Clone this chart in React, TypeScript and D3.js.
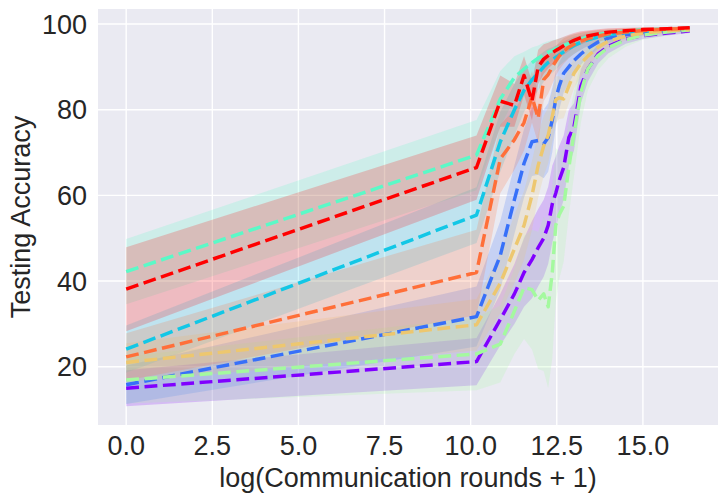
import React from "react";
import * as d3 from "d3";

const W = 727;
const H = 502;

const xValues = [0, 10.17, 10.86, 11.27, 11.55, 11.78, 11.96, 12.12, 12.25, 12.37, 12.47, 12.57, 12.7, 12.85, 13.0, 13.2, 13.4, 13.7, 14.0, 14.5, 15.0, 15.7, 16.36];

const xTicks = [0, 2.5, 5, 7.5, 10, 12.5, 15];
const yTicks = [20, 40, 60, 80, 100];

const seriesColors = ["#8000ff", "#3770f9", "#12c7e6", "#5bf9c7", "#a4f99f", "#edc76f", "#ff6f39", "#ff0000"];

const purpleMean = [15.0, 21.2, 31, 37, 42, 45, 47.8, 50, 53, 58, 60.5, 63.5, 66.5, 73.5, 76, 85.5, 89.5, 93, 94.8, 96.5, 97.3, 97.9, 98.4];
const purpleStd = [4.2, 5.5, 6, 7, 8, 9, 9, 9, 9, 9, 8.5, 8, 7.5, 6.5, 5.5, 4, 3, 2.2, 1.6, 1.1, 0.8, 0.6, 0.5];

const blueMean = [15.8, 31.7, 46, 59, 67.5, 72.5, 72.8, 72, 73.5, 77.6, 82.5, 85.5, 88.5, 90, 91.5, 93, 94.3, 95.8, 96.7, 97.5, 98, 98.5, 98.8];
const blueStd = [4.5, 7, 8, 8, 8, 8, 8, 8, 8, 7.5, 6.5, 5.5, 4.5, 3.8, 3.2, 2.5, 2, 1.5, 1.2, 0.9, 0.7, 0.5, 0.4];

const cyanMean = [24.1, 55.4, 72.5, 80, 84.5, 87, 88.5, 90, 91, 91.6, 92.2, 92.8, 93.5, 94.3, 95, 95.7, 96.3, 97, 97.5, 98, 98.4, 98.7, 99];
const cyanStd = [5.5, 6.5, 7, 6, 5, 4.5, 4, 3.5, 3.2, 3, 2.8, 2.6, 2.4, 2.2, 2, 1.7, 1.5, 1.2, 1, 0.8, 0.6, 0.5, 0.4];

const aquaMean = [42.2, 69.4, 82.5, 87.5, 89.5, 91, 92, 92.8, 93.4, 93.8, 94.2, 94.6, 95, 95.5, 96, 96.5, 97, 97.5, 97.9, 98.3, 98.6, 98.8, 99];
const aquaStd = [7.6, 8.2, 6.5, 5, 4, 3.5, 3, 2.8, 2.6, 2.4, 2.2, 2, 1.9, 1.8, 1.6, 1.4, 1.2, 1, 0.8, 0.6, 0.5, 0.4, 0.3];

const greenMean = [16.9, 23, 25.3, 33, 38.5, 38, 35.5, 37, 34, 42, 53, 55.5, 57.5, 66.5, 74.5, 84, 89.5, 92.7, 94.5, 96.3, 97.4, 98.1, 98.6];
const greenStd = [5.5, 8.5, 9, 10, 12, 14, 16, 18, 19, 20, 18, 15, 13, 11, 10, 7, 5, 3.5, 2.5, 1.6, 1.1, 0.8, 0.6];

const yellowMean = [21.0, 29.8, 39.5, 47.5, 53, 60, 67, 71.5, 74, 78.5, 82.3, 82.8, 82.5, 85.5, 88.5, 90.8, 92.5, 94.6, 96, 97.2, 97.9, 98.4, 98.7];
const yellowStd = [4.5, 6, 7, 8, 8, 8, 7.5, 7, 6.5, 6, 5.5, 5, 4.5, 4, 3.5, 3, 2.5, 1.8, 1.4, 1, 0.8, 0.6, 0.4];

const orangeMean = [22.3, 42, 68.5, 73, 77, 83, 78, 87, 88.2, 90, 91.3, 92.5, 93.7, 94.6, 95.3, 96, 96.6, 97.2, 97.7, 98.1, 98.5, 98.8, 99];
const orangeStd = [5.5, 10, 8, 7, 6.5, 6, 6, 5, 4.5, 4, 3.5, 3.2, 3, 2.6, 2.3, 2, 1.7, 1.4, 1.1, 0.9, 0.7, 0.5, 0.4];

const redMean = [38.1, 66.5, 82, 81, 88, 82, 90, 91.8, 92.6, 93.3, 93.8, 94.3, 94.9, 95.6, 96.2, 96.8, 97.2, 97.7, 98.1, 98.4, 98.7, 98.9, 99.1];
const redStd = [9.8, 7.5, 6, 5, 4.5, 4.5, 4, 3.5, 3, 2.8, 2.5, 2.3, 2.1, 1.9, 1.7, 1.5, 1.3, 1.1, 0.9, 0.7, 0.5, 0.4, 0.3];

const seriesMeans = [purpleMean, blueMean, cyanMean, aquaMean, greenMean, yellowMean, orangeMean, redMean];
const seriesStds = [purpleStd, blueStd, cyanStd, aquaStd, greenStd, yellowStd, orangeStd, redStd];

const xLabel = "log(Communication rounds + 1)";
const yLabel = "Testing Accuracy";

export default function App() {
  const left = 98, right = 718, top = 9, bottom = 425;
  const x = d3.scaleLinear().domain([-0.818, 17.18]).range([left, right]);
  const y = d3.scaleLinear().domain([6.4, 103.5]).range([bottom, top]);
  const font = "'Liberation Sans', Arial, sans-serif";
  const fs = 27;

  const line = d3.line<number>().x((_, i) => x(xValues[i])).y((d) => y(d));

  return (
    <div style={{ position: "fixed", left: 0, top: 0, width: W, height: H, background: "#fff" }}>
      <svg width={W} height={H} style={{ display: "block" }}>
        <defs>
          <clipPath id="plotclip">
            <rect x={left} y={top} width={right - left} height={bottom - top} />
          </clipPath>
        </defs>
        <rect x={left} y={top} width={right - left} height={bottom - top} fill="#eaeaf2" />
        {xTicks.map((t) => (
          <line key={"gx" + t} x1={x(t)} x2={x(t)} y1={top} y2={bottom} stroke="#fff" strokeWidth={1.4} />
        ))}
        {yTicks.map((t) => (
          <line key={"gy" + t} x1={left} x2={right} y1={y(t)} y2={y(t)} stroke="#fff" strokeWidth={1.4} />
        ))}
        <g clipPath="url(#plotclip)">
          {seriesMeans.map((m, s) => {
            const sd = seriesStds[s];
            const area = d3
              .area<number>()
              .x((_, i) => x(xValues[i]))
              .y0((d, i) => y(d - sd[i]))
              .y1((d, i) => y(d + sd[i]));
            return <path key={"a" + s} d={area(m) || ""} fill={seriesColors[s]} fillOpacity={0.2} stroke="none" />;
          })}
          {seriesMeans.map((m, s) => (
            <path
              key={"l" + s}
              d={line(m) || ""}
              fill="none"
              stroke={seriesColors[s]}
              strokeWidth={3.47}
              strokeDasharray="12.85,5.56"
              strokeLinejoin="round"
            />
          ))}
        </g>
        {xTicks.map((t) => (
          <text key={"tx" + t} x={x(t)} y={455} textAnchor="middle" fontFamily={font} fontSize={fs} fill="#262626">
            {t.toFixed(1)}
          </text>
        ))}
        {yTicks.map((t) => (
          <text key={"ty" + t} x={87} y={y(t)} dy="0.36em" textAnchor="end" fontFamily={font} fontSize={fs} fill="#262626">
            {t}
          </text>
        ))}
        <text x={(left + right) / 2} y={487} textAnchor="middle" fontFamily={font} fontSize={fs} fill="#262626">
          {xLabel}
        </text>
        <text
          transform={`translate(30, ${(top + bottom) / 2}) rotate(-90)`}
          textAnchor="middle"
          fontFamily={font}
          fontSize={fs}
          fill="#262626"
        >
          {yLabel}
        </text>
      </svg>
    </div>
  );
}
